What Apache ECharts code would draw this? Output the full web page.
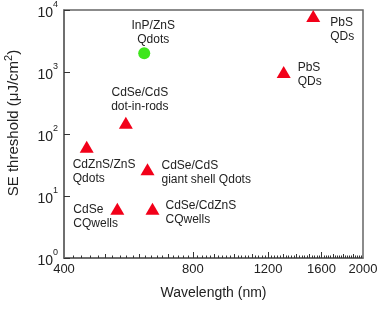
<!DOCTYPE html>
<html>
<head>
<meta charset="utf-8">
<script src="https://cdn.jsdelivr.net/npm/echarts@6/dist/echarts.min.js"></script>
<style>
html,body{margin:0;padding:0;background:#fff;}
#chart{width:380px;height:309px;}
</style>
</head>
<body>
<div id="chart"></div>
<script>
// red triangles
var triNames = ['CdZnS/ZnS\nQdots', 'CdSe/CdS\ndot-in-rods', 'CdSe/CdS\ngiant shell Qdots',
    'CdSe\nCQwells', 'CdSe/CdZnS\nCQwells', 'PbS\nQDs', 'PbS\nQDs'];
var triWave = [452, 558, 627, 533, 644, 1305, 1530];
var triThresh = [62, 152, 27, 6.2, 6.2, 1000, 8000];
// green circle
var dotNames = ['InP/ZnS\nQdots'];
var dotWave = [616];
var dotThresh = [2000];

var xLabelVals = [400, 800, 1200, 1600, 2000];

// label placement: [dx, dy, align] of the text box top relative to the point
var triLabelPos = [[-14, 11, 'left'], [14, -37, 'center'], [14, -11, 'left'],
    [-44, -6, 'left'], [13, -10, 'left'], [14, -11, 'left'], [17, 0, 'left']];
var dotLabelPos = [[9, -35, 'center']];

var lg = function (v) { return Math.log10(v); };

function ticksEvery(step, from, to) {
    var arr = [];
    for (var v = from; v <= to; v += step) arr.push(lg(v));
    return arr;
}

var font = 'Liberation Sans, Arial, sans-serif';

function makeData(names, wave, thresh, pos) {
    var arr = [];
    for (var i = 0; i < wave.length; i++) {
        arr.push({
            name: names[i],
            value: [lg(wave[i]), thresh[i]],
            label: {
                show: true,
                position: 'inside',
                formatter: names[i],
                align: pos[i][2],
                verticalAlign: 'top',
                offset: [pos[i][0], pos[i][1]],
                fontSize: 12,
                lineHeight: 14,
                color: '#222',
                fontFamily: font
            }
        });
    }
    return arr;
}

var xMin = lg(400), xMax = lg(2000);
var axisCol = '#666';
var tickCol = '#333';

var chart = echarts.init(document.getElementById('chart'));
var option = {
    animation: false,
    backgroundColor: '#fff',
    grid: {
        left: 64, right: 17, top: 10, bottom: 51,
        outerBoundsMode: 'none', containLabel: false,
        show: true, borderColor: axisCol, borderWidth: 1.5, backgroundColor: 'transparent'
    },
    xAxis: [
        {
            type: 'value', min: xMin, max: xMax,
            name: 'Wavelength (nm)', nameLocation: 'middle', nameGap: 28,
            nameTextStyle: {fontSize: 14, color: '#222', fontFamily: font},
            axisLine: {show: true, lineStyle: {color: axisCol, width: 1.5}},
            splitLine: {show: false},
            axisTick: {show: true, inside: true, length: 6, lineStyle: {color: tickCol, width: 1},
                customValues: [lg(800), lg(1200), lg(1600)]},
            axisLabel: {
                customValues: xLabelVals.map(lg),
                margin: 5, fontSize: 13, color: '#222', fontFamily: font,
                formatter: function (v) { return Math.round(Math.pow(10, v)); }
            }
        },
        {
            type: 'value', min: xMin, max: xMax, gridIndex: 0, position: 'bottom',
            axisLine: {show: false},
            splitLine: {show: false}, axisLabel: {show: false},
            axisTick: {show: true, inside: true, length: 4, lineStyle: {color: tickCol, width: 1},
                customValues: ticksEvery(100, 500, 1900)}
        },
        {
            type: 'value', min: xMin, max: xMax, gridIndex: 0, position: 'bottom',
            axisLine: {show: false},
            splitLine: {show: false}, axisLabel: {show: false},
            axisTick: {show: true, inside: true, length: 2.5, lineStyle: {color: tickCol, width: 1},
                customValues: ticksEvery(20, 420, 1980)}
        }
    ],
    yAxis: {
        type: 'log', logBase: 10, min: 1, max: 10000,
        name: 'SE threshold (μJ/cm{s|2})', nameLocation: 'middle', nameGap: 39,
        nameTextStyle: {
            fontSize: 15, color: '#222', fontFamily: font, padding: [0, 0, 0, 22],
            rich: {s: {fontSize: 11, verticalAlign: 'top', lineHeight: 22, color: '#222', fontFamily: font}}
        },
        axisLine: {show: true, lineStyle: {color: axisCol, width: 1.5}},
        splitLine: {show: false},
        minorTick: {show: false},
        axisTick: {show: true, inside: true, length: 6, lineStyle: {color: tickCol, width: 1}},
        axisLabel: {
            margin: 6, color: '#222', fontFamily: font,
            formatter: function (v) {
                return '{b|10}{s|' + Math.round(Math.log10(v)) + '}';
            },
            rich: {
                b: {fontSize: 14, verticalAlign: 'bottom', color: '#222', fontFamily: font},
                s: {fontSize: 9, verticalAlign: 'top', lineHeight: 20, color: '#222', fontFamily: font}
            }
        }
    },
    series: [
        {
            type: 'scatter', xAxisIndex: 0,
            symbol: 'triangle', symbolSize: [14, 12],
            itemStyle: {color: '#f20019', opacity: 1},
            data: makeData(triNames, triWave, triThresh, triLabelPos)
        },
        {
            type: 'scatter', xAxisIndex: 0,
            symbol: 'circle', symbolSize: 12,
            itemStyle: {color: '#3ee61c', opacity: 1},
            data: makeData(dotNames, dotWave, dotThresh, dotLabelPos)
        }
    ]
};
chart.setOption(option);
</script>
</body>
</html>
